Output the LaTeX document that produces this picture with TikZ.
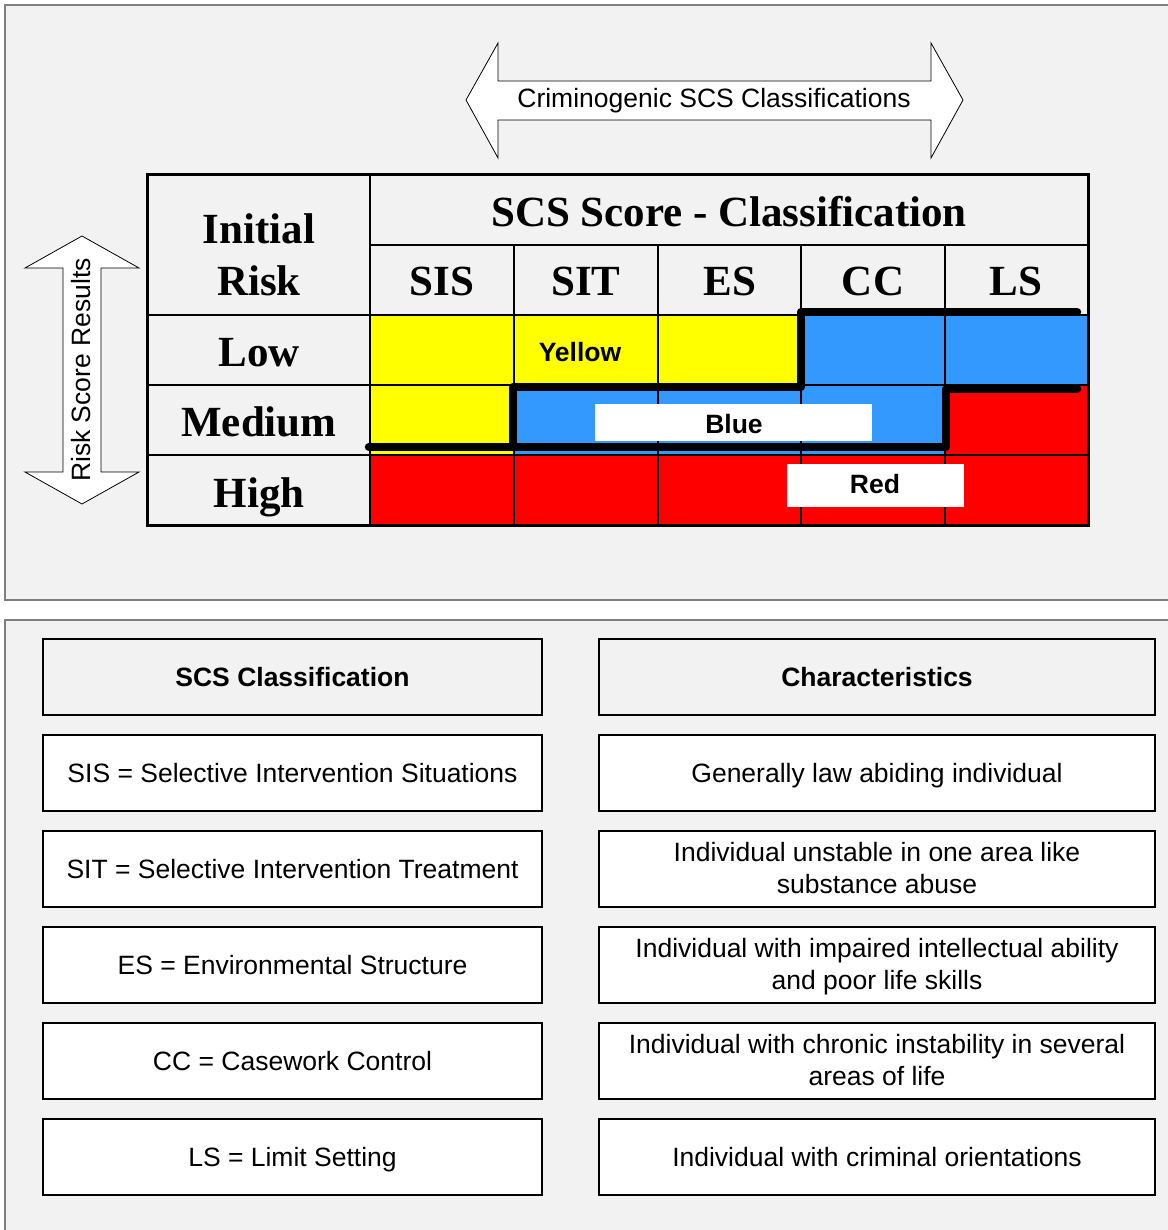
\documentclass[tikz,border=0pt]{standalone}
\usepackage{fontspec}
\setmainfont{Liberation Serif}
\newfontfamily\arl{Liberation Sans}
\newfontfamily\tnr{Liberation Serif}
\definecolor{panel}{HTML}{F2F2F2}
\definecolor{panelline}{HTML}{7F7F7F}
\definecolor{cellyellow}{HTML}{FFFF00}
\definecolor{cellblue}{HTML}{3399FF}
\definecolor{cellred}{HTML}{FF0000}
\tikzset{
  panelbox/.style={draw=panelline, fill=panel, line width=1.5pt},
  hd/.style={font=\tnr\bfseries\fontsize{43}{52}\selectfont, anchor=base, inner sep=0pt},
  lbl/.style={font=\arl\fontsize{26.5}{31.5}\selectfont, anchor=base, inner sep=0pt},
  lblbold/.style={lbl, font=\arl\bfseries\fontsize{26.5}{31.5}\selectfont},
  bigarrow/.style={draw=black, fill=white, line width=0.8pt, line join=miter},
  grid/.style={draw=black, line width=2.5pt},
  bound/.style={draw=black, line width=8.5pt, line cap=round, line join=round},
  tagbox/.style={fill=white, draw=none},
  keybox/.style={draw=black, line width=1.8pt, fill=white, inner sep=0pt,
    minimum height=76pt, align=center, font=\arl\fontsize{26.5}{31.5}\selectfont},
  leftkey/.style={keybox, minimum width=499pt},
  rightkey/.style={keybox, minimum width=556pt},
  oneline/.style={text height=19pt, text depth=0pt},
  twoline/.style={text depth=2pt},
  headkey/.style={fill=panel, font=\arl\bfseries\fontsize{26.5}{31.5}\selectfont, oneline},
}
\begin{document}
\begin{tikzpicture}[x=1pt,y=-1pt]
\useasboundingbox (0,0) rectangle (1167,1230);
\fill[white] (0,0) rectangle (1167,1230);

% panels
\draw[panelbox] (5,5) rectangle (1180,600);
\draw[panelbox] (5,620) rectangle (1180,1240);

% horizontal double arrow
\draw[bigarrow] (466,100) -- (498,43) -- (498,81) -- (931,81) -- (931,43)
  -- (963,100) -- (931,158) -- (931,120) -- (498,120) -- (498,158) -- cycle;
\node[lbl] (crimlab) at (714,108) {Criminogenic SCS Classifications};

% vertical double arrow
\draw[bigarrow] (82,236) -- (139,268) -- (101,268) -- (101,472) -- (139,472)
  -- (82,504) -- (25,472) -- (63,472) -- (63,268) -- (25,268) -- cycle;
\node[lbl, rotate=90] (risklab) at (90,370) {Risk Score Results};

% cell colours
\fill[cellyellow] (370,315) rectangle (801,385);
\fill[cellblue]   (801,315) rectangle (1088,385);
\fill[cellyellow] (370,385) rectangle (514,455);
\fill[cellblue]   (514,385) rectangle (945,455);
\fill[cellred]    (945,385) rectangle (1088,455);
\fill[cellred]    (370,455) rectangle (1088,525);

% grid
\draw[grid] (370,175) -- (370,525);
\draw[grid] (370,245) -- (1088,245);
\foreach \x in {514,658,801,945} \draw[grid] (\x,245) -- (\x,525);
\foreach \y in {315,385,455} \draw[grid] (147,\y) -- (1088,\y);
\draw[black, line width=3pt] (147,175) rectangle (1088,525);

% band labels
\fill[tagbox] (595,404) rectangle (872,441);
\fill[tagbox] (787,464) rectangle (964,507);

% band boundaries
\draw[bound] (369,447) -- (946,447) -- (946,389) -- (1077,389);
\draw[bound] (513,447) -- (513,387) -- (801,387) -- (801,312) -- (1077,312);

\node[lblbold] (yellowlab) at (580,361) {Yellow};
\node[lblbold] (bluelab) at (734,433) {Blue};
\node[lblbold] (redlab) at (875,493) {Red};

% table headings
\node[hd] (initial) at (259,244) {Initial};
\node[hd] (risk) at (259,296) {Risk};
\node[hd] (scshead) at (729,227) {SCS Score - Classification};
\node[hd] (csis) at (442,296) {SIS};
\node[hd] (csit) at (586,296) {SIT};
\node[hd] (ces) at (730,296) {ES};
\node[hd] (ccc) at (873,296) {CC};
\node[hd] (cls) at (1016,296) {LS};
\node[hd] (rlow) at (259,366) {Low};
\node[hd] (rmed) at (259,436) {Medium};
\node[hd] (rhigh) at (259,507) {High};

% key
\node[leftkey, headkey] (khl) at (292.5,677) {SCS Classification};
\node[rightkey, headkey] (khr) at (877,677) {Characteristics};
\node[leftkey, oneline] (k1l) at (292.5,773) {SIS = Selective Intervention Situations};
\node[rightkey, oneline] (k1r) at (877,773) {Generally law abiding individual};
\node[leftkey, oneline] (k2l) at (292.5,869) {SIT = Selective Intervention Treatment};
\node[rightkey, twoline] (k2r) at (877,869) {Individual unstable in one area like\\substance abuse};
\node[leftkey, oneline] (k3l) at (292.5,965) {ES = Environmental Structure};
\node[rightkey, twoline] (k3r) at (877,965) {Individual with impaired intellectual ability\\and poor life skills};
\node[leftkey, oneline] (k4l) at (292.5,1061) {CC = Casework Control};
\node[rightkey, twoline] (k4r) at (877,1061) {Individual with chronic instability in several\\areas of life};
\node[leftkey, oneline] (k5l) at (292.5,1157) {LS = Limit Setting};
\node[rightkey, oneline] (k5r) at (877,1157) {Individual with criminal orientations};
\end{tikzpicture}
\end{document}
